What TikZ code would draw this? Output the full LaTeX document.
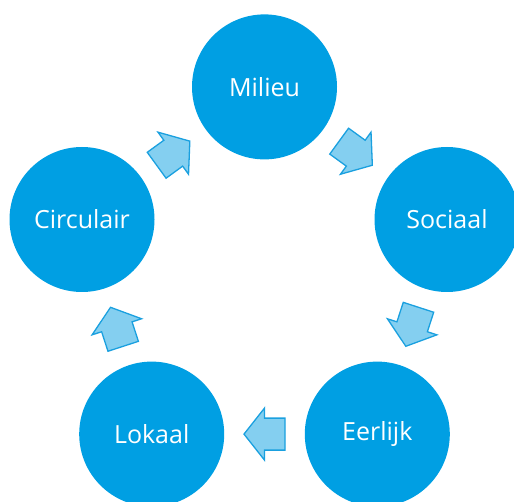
\documentclass[tikz,border=0pt]{standalone}
\usepackage{fontspec}
\setmainfont{Open Sans}
\usetikzlibrary{calc}
\definecolor{circblue}{HTML}{009FE3}
\definecolor{arrfill}{HTML}{84CFF0}
\definecolor{arrline}{HTML}{1AA0DF}
\tikzset{
  stage/.style={circle, fill=circblue, draw=none, minimum size=145pt, inner sep=0pt,
    text=white, font=\fontsize{25}{30}\selectfont},
  pics/blockarrow/.style={code={
    \draw[fill=arrfill, draw=arrline, line width=1.3pt, line join=miter]
      (-20.5,16) -- (0,16) -- (0,26) -- (20.5,0) -- (0,-26) -- (0,-16) -- (-20.5,-16) -- cycle;
  }}
}
\begin{document}
\begin{tikzpicture}[x=1pt, y=-1pt]
\useasboundingbox (0,0) rectangle (514,502);
\node[stage] (mil) at (264.5,86.9) {Milieu};
\node[stage] (soc) at (447,219.5) {Sociaal};
\node[stage] (eer) at (377.3,434.1) {Eerlijk};
\node[stage] (lok) at (151.7,434.1) {Lokaal};
\node[stage] (cir) at (82,219.5) {Circulair};
\pic[rotate=-36] at ($(mil)!0.5!(soc)$) {blockarrow};
\pic[rotate=-108] at ($(soc)!0.5!(eer)$) {blockarrow};
\pic[rotate=180] at ($(eer)!0.5!(lok)$) {blockarrow};
\pic[rotate=108] at ($(lok)!0.5!(cir)$) {blockarrow};
\pic[rotate=36] at ($(cir)!0.5!(mil)$) {blockarrow};
\end{tikzpicture}
\end{document}
